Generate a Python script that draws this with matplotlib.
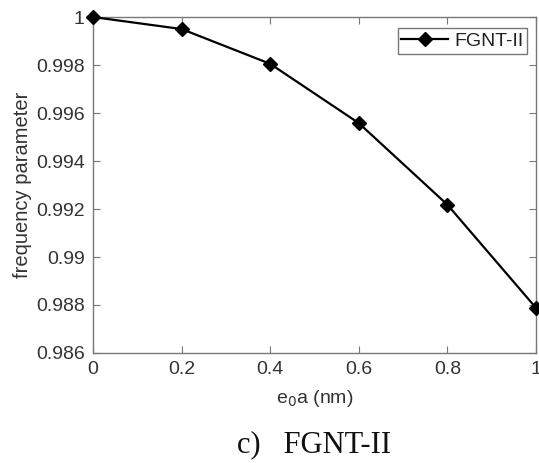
import matplotlib
matplotlib.use("Agg")
import matplotlib.pyplot as plt

x_vals = [0, 0.2, 0.4, 0.6, 0.8, 1.0]
y_vals = [1.0, 0.99950, 0.99805, 0.99558, 0.99218, 0.98788]
series_name = "FGNT-II"
x_ticks = [0, 0.2, 0.4, 0.6, 0.8, 1]
x_tick_labels = ["0", "0.2", "0.4", "0.6", "0.8", "1"]
y_ticks = [0.986, 0.988, 0.990, 0.992, 0.994, 0.996, 0.998, 1.0]
y_tick_labels = ["0.986", "0.988", "0.99", "0.992", "0.994", "0.996", "0.998", "1"]

plt.rcParams['font.family'] = ['Liberation Sans', 'DejaVu Sans']

fig = plt.figure(figsize=(5.39, 4.63), dpi=100)
ax = fig.add_axes([0.1725, 0.2376, 0.8219, 0.7256])

ax.plot(x_vals, y_vals, color='black', linewidth=1.6, marker='D', markersize=7.5,
        markerfacecolor='black', markeredgecolor='black', label=series_name, clip_on=False, zorder=5)

ax.set_xlim(0, 1)
ax.set_ylim(0.986, 1.0)
ax.set_xticks(x_ticks)
ax.set_xticklabels(x_tick_labels)
ax.set_yticks(y_ticks)
ax.set_yticklabels(y_tick_labels)

for s in ax.spines.values():
    s.set_color('#777777')
    s.set_linewidth(1.0)
ax.tick_params(direction='in', top=True, right=True, length=5, color='#777777',
               labelsize=14, labelcolor='#333333', pad=6)

ax.set_xlabel(r"e$_0$a (nm)", fontsize=14, color='#333333', labelpad=7)
ax.set_ylabel("frequency parameter", fontsize=14.5, color='#333333', labelpad=3)

leg = ax.legend(loc='upper right', fontsize=14, frameon=True, fancybox=False,
                borderpad=0.2, handlelength=2.4, handletextpad=0.3, borderaxespad=0,
                bbox_to_anchor=(0.98, 0.967))
leg.get_frame().set_edgecolor('#555555')
leg.get_frame().set_linewidth(1.0)
for t in leg.get_texts():
    t.set_color('#222222')

fig.text(0.582, 0.040, "c)   FGNT-II", fontsize=22, family=['Liberation Serif', 'DejaVu Serif'],
         ha='center', va='center', color='#111111')

fig.savefig("out.png", dpi=100)
